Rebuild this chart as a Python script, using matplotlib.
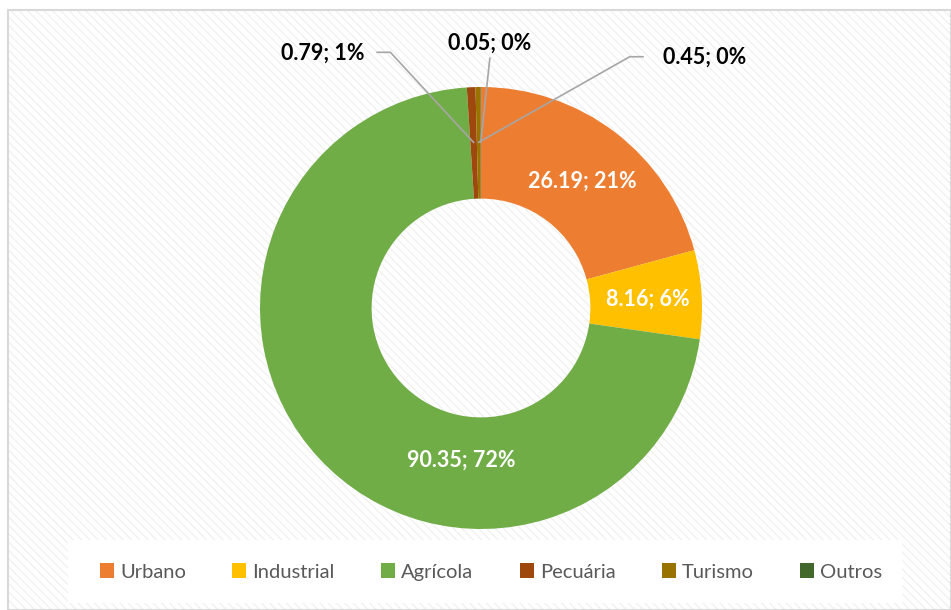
import matplotlib
matplotlib.use('Agg')
import matplotlib.pyplot as plt
from matplotlib.patches import Rectangle, Patch
import numpy as np

# === Data ===
categories = ['Urbano', 'Industrial', 'Agrícola', 'Pecuária', 'Turismo', 'Outros']
values = [26.19, 8.16, 90.35, 0.79, 0.45, 0.05]
percents = ['21%', '6%', '72%', '1%', '0%', '0%']
colors = ['#ED7D31', '#FFC000', '#70AD47', '#9E480E', '#997300', '#43682B']

plt.rcParams['font.family'] = ['Lato', 'DejaVu Sans']

W, H = 951, 610
fig = plt.figure(figsize=(W / 100, H / 100), dpi=100)

# === Chart area background (frame + faint stripes) ===
bg = fig.add_axes([0, 0, 1, 1])
bg.set_xlim(0, W)
bg.set_ylim(H, 0)
bg.axis('off')
bg.add_patch(Rectangle((8, 10), W - 8, H - 10, facecolor='white',
                       edgecolor='#f1f1f1', hatch='\\\\\\\\', linewidth=0))
bg.add_patch(Rectangle((8, 10), W - 8, H - 10, facecolor='none',
                       edgecolor='#d9d9d9', linewidth=1.5))
bg.add_patch(Rectangle((68, 540), 834, 63, facecolor='white', edgecolor='none'))

# === Donut ===
cx, cy, r = 481, 308, 221
half = 300
ax = fig.add_axes([(cx - half) / W, (H - cy - half) / H, 2 * half / W, 2 * half / H])

wedges, _ = ax.pie(values, colors=colors, startangle=90, counterclock=False,
                   radius=1, wedgeprops=dict(width=0.505, linewidth=0))
lim = half / r
ax.set_xlim(-lim, lim)
ax.set_ylim(-lim, lim)
ax.axis('off')

labels = [f'{v:.2f}; {p}' for v, p in zip(values, percents)]

# inside labels
inside_pos = [(0.46, 0.575), (0.755, 0.04), (-0.09, -0.69)]
for i, (x, y) in enumerate(inside_pos):
    ax.text(x, y, labels[i], color='white', fontsize=15.5, fontweight='bold',
            ha='center', va='center')

# outside labels with leader lines
outside = {3: ((-0.715, 1.155), (-0.47, 1.157), 'right'),
           4: ((1.014, 1.137), (0.733, 1.137), 'left'),
           5: ((0.04, 1.20), (0.04, 1.13), 'center')}
for i, (tpos, lstart, ha) in outside.items():
    w = wedges[i]
    mid = np.deg2rad((w.theta1 + w.theta2) / 2)
    ex, ey = 0.75 * np.cos(mid), 0.75 * np.sin(mid)
    if ha == 'center':
        xs, ys = [lstart[0], ex], [lstart[1], ey]
    else:
        kx = lstart[0] + (0.06 if ha == 'right' else -0.06)
        xs, ys = [lstart[0], kx, ex], [lstart[1], lstart[1], ey]
    ax.plot(xs, ys, color='#a6a6a6', linewidth=1.2)
    ax.text(tpos[0], tpos[1], labels[i], color='black', fontsize=15.5, fontweight='bold',
            ha='center', va='center')

# === Legend ===
handles = [Patch(facecolor=c, edgecolor='none') for c in colors]
fig.legend(handles, categories, loc='center', bbox_to_anchor=(491 / W, 1 - 572 / H),
           ncol=6, frameon=False, fontsize=14.5, labelcolor='#595959',
           handlelength=0.7, handleheight=0.7, handletextpad=0.3, columnspacing=2.3)

fig.savefig('out.png', dpi=100)
